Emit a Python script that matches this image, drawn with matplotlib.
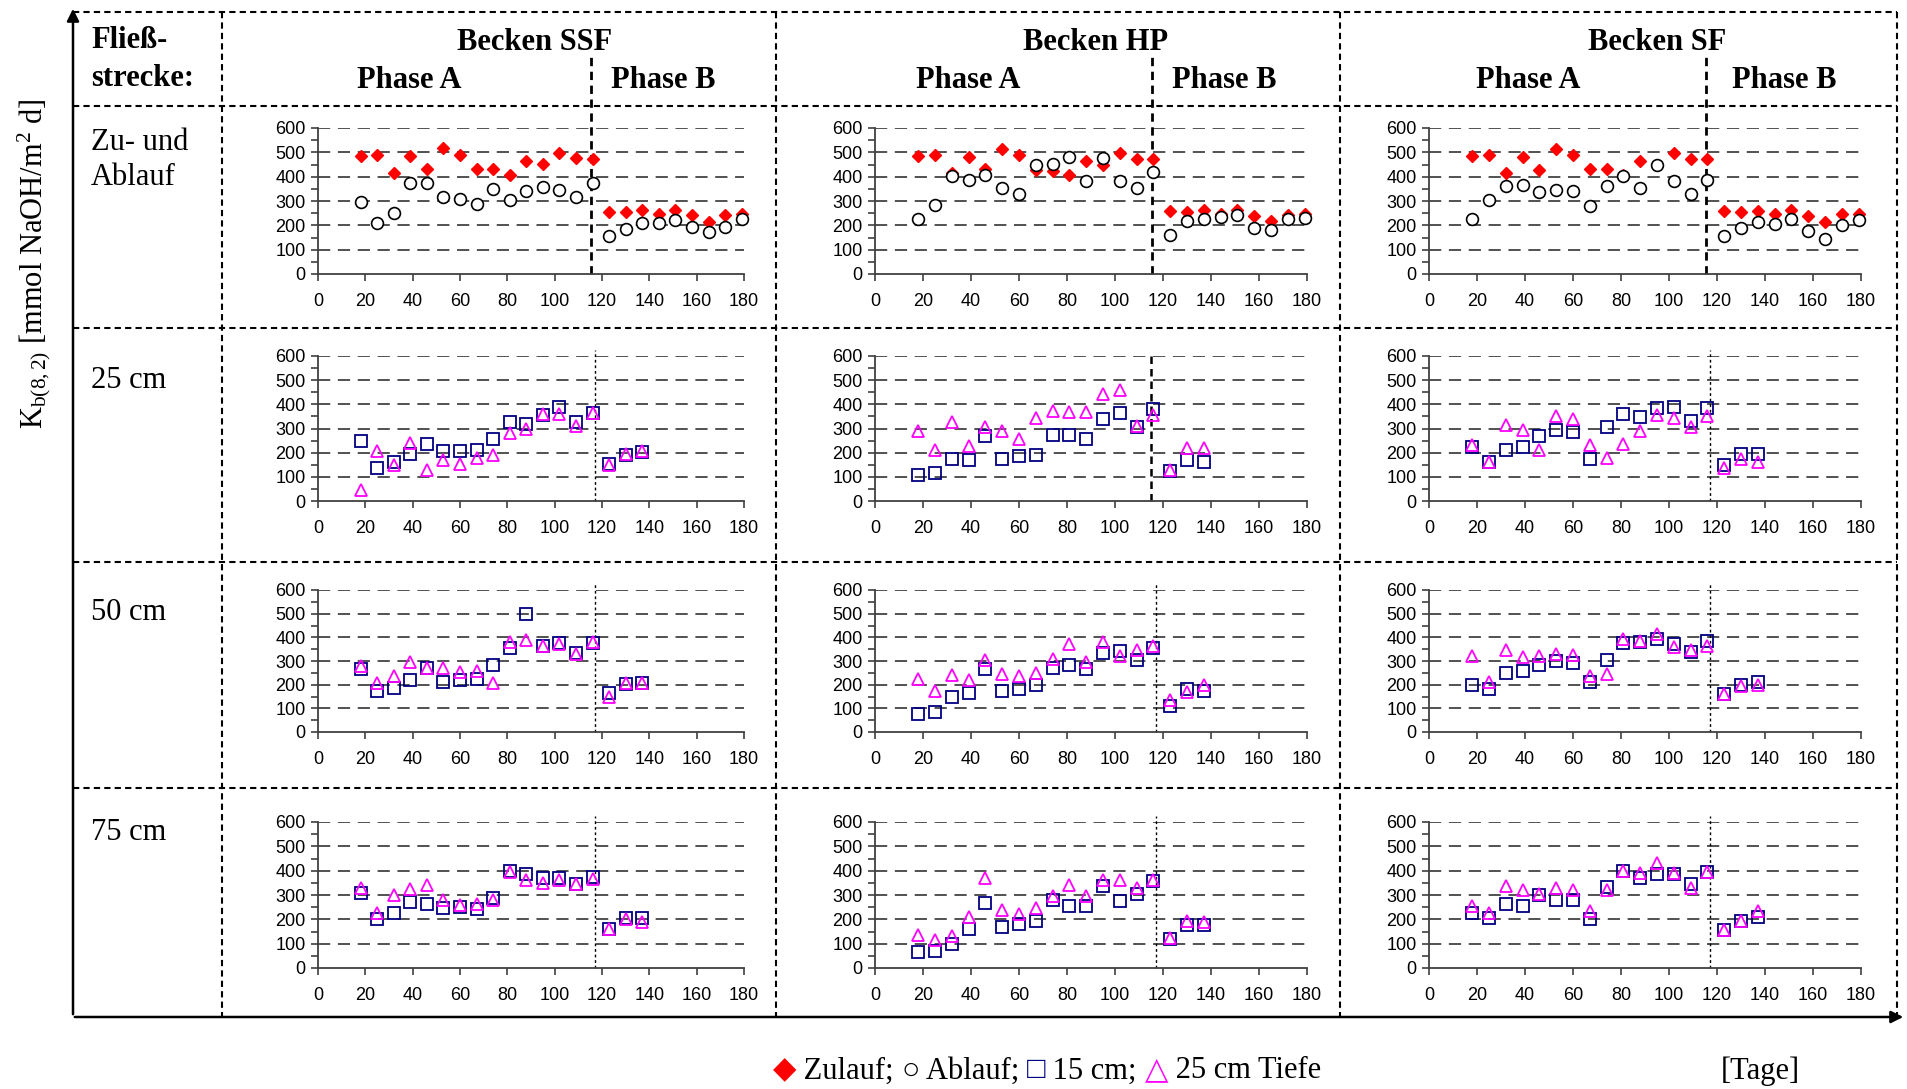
import matplotlib.pyplot as plt
from matplotlib.offsetbox import TextArea, HPacker, AnchoredOffsetbox

W, H = 1907, 1089

plt.rcParams['mathtext.fontset'] = 'custom'
plt.rcParams['mathtext.rm'] = 'Liberation Serif'
plt.rcParams['mathtext.it'] = 'Liberation Serif:italic'

# Probenahmetage
tage_zu = [18, 25, 32, 39, 46, 53, 60, 67, 74, 81, 88, 95, 102, 109, 116,
           123, 130, 137, 144, 151, 158, 165, 172, 179]
tage_tiefe = [18, 25, 32, 39, 46, 53, 60, 67, 74, 81, 88, 95, 102, 109, 116,
              123, 130, 137]
phasenwechsel = 115.5

# Zu- und Ablauf
ssf_zulauf = [485, 487, 415, 483, 430, 518, 490, 432, 430, 408, 465, 452, 497, 476, 473,
              255, 255, 262, 247, 265, 242, 215, 242, 248]
ssf_ablauf = [295, 208, 250, 372, 372, 315, 308, 288, 348, 305, 342, 358, 345, 315, 372,
              158, 185, 210, 210, 220, 195, 172, 195, 225]
hp_zulauf = [483, 487, 415, 480, 430, 515, 490, 428, 425, 408, 465, 450, 497, 473, 473,
             258, 255, 262, 245, 265, 240, 218, 242, 248]
hp_ablauf = [228, 283, 402, 385, 408, 352, 328, 448, 453, 482, 382, 478, 382, 352, 418,
             162, 218, 225, 235, 242, 190, 182, 228, 232]
sf_zulauf = [483, 487, 415, 480, 428, 515, 490, 432, 430, 405, 465, 450, 497, 473, 473,
             257, 254, 260, 245, 265, 240, 215, 245, 248]
sf_ablauf = [225, 305, 360, 365, 335, 345, 342, 280, 362, 402, 352, 448, 382, 330, 385,
             155, 190, 213, 205, 225, 175, 142, 202, 222]

# 25 cm Fliessstrecke (15 cm / 25 cm Tiefe)
ssf_25_t15 = [248, 137, 160, 195, 235, 207, 207, 213, 258, 328, 318, 355, 388, 325, 365, 155, 190, 203]
ssf_25_t25 = [45, 205, 150, 240, 128, 170, 155, 178, 190, 280, 298, 360, 360, 312, 365, 150, 195, 205]
hp_25_t15 = [108, 115, 175, 168, 268, 175, 185, 192, 275, 275, 258, 338, 365, 305, 382, 125, 168, 162]
hp_25_t25 = [290, 210, 325, 228, 305, 290, 255, 342, 372, 370, 370, 443, 460, 310, 355, 130, 220, 220]
sf_25_t15 = [225, 160, 210, 225, 270, 295, 285, 175, 305, 358, 348, 385, 388, 330, 385, 150, 195, 195]
sf_25_t25 = [232, 162, 315, 295, 210, 350, 338, 230, 178, 235, 290, 355, 345, 305, 352, 135, 175, 160]

# 50 cm
ssf_50_t15 = [265, 175, 185, 220, 270, 210, 220, 222, 282, 355, 497, 365, 378, 335, 378, 165, 203, 205]
ssf_50_t25 = [280, 205, 235, 295, 270, 270, 255, 258, 205, 380, 390, 365, 370, 330, 380, 150, 205, 205]
hp_50_t15 = [78, 85, 148, 165, 268, 175, 180, 200, 272, 282, 265, 335, 342, 305, 355, 110, 180, 175]
hp_50_t25 = [222, 175, 240, 220, 305, 245, 235, 250, 310, 370, 295, 380, 320, 345, 365, 135, 170, 200]
sf_50_t15 = [200, 180, 250, 258, 285, 300, 290, 210, 305, 375, 380, 395, 370, 340, 385, 160, 200, 210]
sf_50_t25 = [320, 210, 345, 315, 320, 330, 325, 235, 245, 395, 385, 415, 360, 345, 365, 160, 195, 200]

# 75 cm
ssf_75_t15 = [310, 200, 228, 272, 262, 245, 250, 242, 288, 400, 385, 370, 368, 345, 375, 160, 205, 205]
ssf_75_t25 = [330, 225, 300, 325, 340, 280, 260, 262, 280, 395, 360, 350, 360, 345, 365, 160, 200, 190]
hp_75_t15 = [65, 70, 100, 160, 268, 170, 180, 195, 280, 255, 255, 335, 275, 305, 358, 120, 175, 175]
hp_75_t25 = [135, 115, 130, 210, 370, 240, 220, 245, 295, 340, 295, 360, 360, 330, 360, 125, 195, 190]
sf_75_t15 = [225, 205, 262, 255, 300, 280, 280, 200, 332, 400, 368, 385, 385, 345, 395, 155, 195, 210]
sf_75_t25 = [255, 225, 335, 320, 305, 330, 320, 235, 320, 400, 390, 430, 390, 330, 395, 155, 195, 235]

becken = ["Becken SSF", "Becken HP", "Becken SF"]
zeilen = ["Zu- und\nAblauf", "25 cm", "50 cm", "75 cm"]

panels = {
    (0, 0): [(tage_zu, ssf_zulauf, 'zulauf'), (tage_zu, ssf_ablauf, 'ablauf')],
    (0, 1): [(tage_zu, hp_zulauf, 'zulauf'), (tage_zu, hp_ablauf, 'ablauf')],
    (0, 2): [(tage_zu, sf_zulauf, 'zulauf'), (tage_zu, sf_ablauf, 'ablauf')],
    (1, 0): [(tage_tiefe, ssf_25_t15, 't15'), (tage_tiefe, ssf_25_t25, 't25')],
    (1, 1): [(tage_tiefe, hp_25_t15, 't15'), (tage_tiefe, hp_25_t25, 't25')],
    (1, 2): [(tage_tiefe, sf_25_t15, 't15'), (tage_tiefe, sf_25_t25, 't25')],
    (2, 0): [(tage_tiefe, ssf_50_t15, 't15'), (tage_tiefe, ssf_50_t25, 't25')],
    (2, 1): [(tage_tiefe, hp_50_t15, 't15'), (tage_tiefe, hp_50_t25, 't25')],
    (2, 2): [(tage_tiefe, sf_50_t15, 't15'), (tage_tiefe, sf_50_t25, 't25')],
    (3, 0): [(tage_tiefe, ssf_75_t15, 't15'), (tage_tiefe, ssf_75_t25, 't25')],
    (3, 1): [(tage_tiefe, hp_75_t15, 't15'), (tage_tiefe, hp_75_t25, 't25')],
    (3, 2): [(tage_tiefe, sf_75_t15, 't15'), (tage_tiefe, sf_75_t25, 't25')],
}

stil = {
    'zulauf': dict(marker='D', ms=6, mfc='#ff0000', mec='#ff0000', mew=1, ls='none'),
    'ablauf': dict(marker='o', ms=8.5, mfc='white', mec='black', mew=1.2, ls='none'),
    't15': dict(marker='s', ms=8.5, mfc='none', mec='#000080', mew=1.3, ls='none'),
    't25': dict(marker='^', ms=9, mfc='none', mec='#ff00ff', mew=1.3, ls='none'),
}

serif = 'Liberation Serif'
sans = 'Liberation Sans'

fig = plt.figure(figsize=(W / 100, H / 100), dpi=100)

# overlay in pixel coordinates for the table frame and texts
ov = fig.add_axes([0, 0, 1, 1])
ov.set_xlim(0, W)
ov.set_ylim(H, 0)
ov.axis('off')

tab_ls = (0, (3, 2))
x_l, x_r = 73, 1897
for y in [12, 106, 328, 562, 788]:
    ov.plot([x_l, x_r], [y, y], color='black', lw=1.5, ls=tab_ls)
for x in [222, 776, 1340, x_r]:
    ov.plot([x, x], [12, 1016], color='black', lw=1.5, ls=tab_ls)

# axis arrows
ov.annotate('', xy=(x_l, 6), xytext=(x_l, 1017),
            arrowprops=dict(arrowstyle='-|>', color='black', lw=1.8, mutation_scale=18))
ov.annotate('', xy=(1906, 1017), xytext=(x_l - 1, 1017),
            arrowprops=dict(arrowstyle='-|>', color='black', lw=1.8, mutation_scale=18))

fs = 22
ov.text(91, 41, "Fließ-", fontsize=fs, family=serif, weight='bold', va='center')
ov.text(91, 79, "strecke:", fontsize=fs, family=serif, weight='bold', va='center')

kopf_x = [535, 1096, 1657]
phase_a_x = [409, 968, 1528]
phase_b_x = [663, 1224, 1784]
for i, name in enumerate(becken):
    ov.text(kopf_x[i], 42, name, fontsize=fs, family=serif, weight='bold', ha='center', va='center')
    ov.text(phase_a_x[i], 80, "Phase A", fontsize=fs, family=serif, weight='bold', ha='center', va='center')
    ov.text(phase_b_x[i], 80, "Phase B", fontsize=fs, family=serif, weight='bold', ha='center', va='center')

zeilen_y = [160, 380, 613, 832]
for i, z in enumerate(zeilen):
    ov.text(91, zeilen_y[i], z, fontsize=fs, family=serif, va='center', linespacing=1.3)

ov.text(34, 264, r"K$_{\mathrm{b(8,2)}}$ [mmol NaOH/m$^{\mathrm{2}}$ d]", fontsize=fs,
        family=serif, rotation=90, ha='center', va='center')
ov.text(1760, 1071, "[Tage]", fontsize=fs, family=serif, ha='center', va='center')

# legend below the table
fam = [serif, 'DejaVu Sans']
teile = [("◆", '#ff0000'), (" Zulauf; ", 'black'), ("○", 'black'), (" Ablauf; ", 'black'),
         ("□", '#000080'), (" 15 cm; ", 'black'), ("△", '#ff00ff'), (" 25 cm Tiefe", 'black')]
kinder = [TextArea(t, textprops=dict(color=c, fontsize=fs, family=fam)) for t, c in teile]
box = HPacker(children=kinder, align='baseline', pad=0, sep=0)
anch = AnchoredOffsetbox(loc='center', child=box, frameon=False, pad=0, borderpad=0,
                         bbox_to_anchor=(1047 / W, 1 - 1071 / H), bbox_transform=fig.transFigure)
ov.add_artist(anch)

# panels
col_left = [318, 875, 1429]
col_w = [426, 432, 432]
row_top = [128, 356, 590, 822]
row_bot = [274, 501, 732, 968]

for (r, c), serien in panels.items():
    l, w = col_left[c], col_w[c]
    t, b = row_top[r], row_bot[r]
    ax = fig.add_axes([l / W, 1 - b / H, w / W, (b - t) / H])
    ax.patch.set_alpha(0)
    ax.set_xlim(0, 180)
    ax.set_ylim(0, 600)
    ax.set_xticks(range(0, 181, 20))
    ax.set_yticks(range(0, 601, 100))
    ax.set_yticks(range(50, 600, 100), minor=True)
    for y in range(100, 601, 100):
        ax.axhline(y, color='#222222', lw=1.1, ls=(0, (8, 5)), zorder=1)
    for s in ['top', 'right']:
        ax.spines[s].set_visible(False)
    for s in ['left', 'bottom']:
        ax.spines[s].set_color('#404040')
        ax.spines[s].set_linewidth(1.3)
    ax.tick_params(axis='both', which='both', direction='out', color='#404040', width=1.2)
    ax.tick_params(axis='y', which='major', length=5, pad=4, labelsize=13)
    ax.tick_params(axis='y', which='minor', length=5)
    ax.tick_params(axis='x', length=5, pad=9, labelsize=13)
    for lab in ax.get_xticklabels() + ax.get_yticklabels():
        lab.set_family(sans)

    # phase boundary
    trans = ax.get_xaxis_transform()
    if r == 0:
        ax.plot([phasenwechsel, phasenwechsel], [0, (b - 55) / (b - t)], transform=trans,
                color='black', lw=2, ls=(0, (3, 2)), clip_on=False, zorder=2)
    elif (r, c) == (1, 1):
        ax.plot([115, 115], [0, 1.02], transform=trans, color='black', lw=1.8,
                ls=(0, (3, 2)), clip_on=False, zorder=2)
    else:
        ax.plot([117, 117], [0, 1.04], transform=trans, color='black', lw=1,
                ls=(0, (2, 2)), clip_on=False, zorder=2)

    for tage, werte, art in serien:
        ax.plot(tage, werte, zorder=3, clip_on=False, **stil[art])

fig.savefig('out.png', dpi=100)
